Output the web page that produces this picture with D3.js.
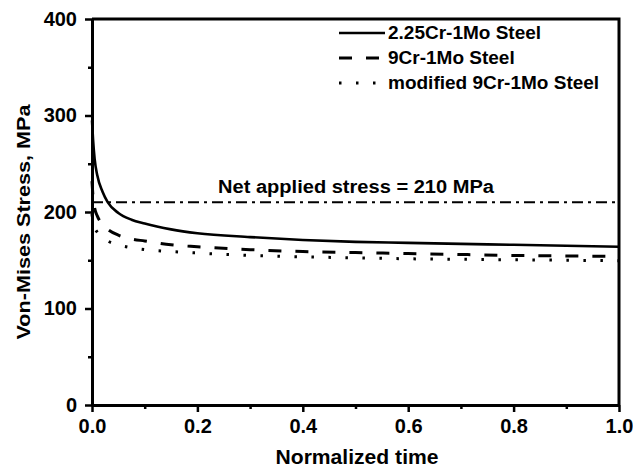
<!DOCTYPE html>
<html>
<head>
<meta charset="utf-8">
<script src="https://cdn.jsdelivr.net/npm/d3@7"></script>
<style>
  body { margin: 0; background: #fff; }
  svg text { font-family: "Liberation Sans", Arial, sans-serif; }
</style>
</head>
<body>
<div id="chart"></div>
<script>
// values
const timeVals   = [0, 0.002, 0.005, 0.01, 0.02, 0.03, 0.05, 0.075, 0.1, 0.15, 0.2, 0.3, 0.4, 0.5, 0.6, 0.7, 0.8, 0.9, 1.0];
const cr225Vals  = [295, 275, 255, 238, 221, 210, 199, 192, 188, 182, 178, 174, 171, 169, 168, 167, 166, 165, 164];
const cr9Vals    = [232, 215, 204, 196, 187, 182, 176, 172, 170, 166, 164, 161, 159, 158, 157, 156, 155, 154.5, 154];
const mod9Vals   = [198, 190, 184, 179, 174, 170, 166, 163, 161, 159, 157.5, 155, 153.5, 152.5, 151.5, 151, 150.5, 150, 149.5];
const seriesNames = ["2.25Cr-1Mo Steel", "9Cr-1Mo Steel", "modified 9Cr-1Mo Steel"];
const netStress = 210;
const xTicks = [0, 0.2, 0.4, 0.6, 0.8, 1.0];
const xMinor = [0.1, 0.3, 0.5, 0.7, 0.9];
const yTicks = [0, 100, 200, 300, 400];
const yMinor = [50, 150, 250, 350];

const W = 633, H = 468;
const m = {t:19, r:14, b:63, l:92};

const svg = d3.select("#chart").append("svg")
  .attr("width", W)
  .attr("height", H);

const x = d3.scaleLinear().domain([0, 1]).range([m.l, W - m.r]);
const y = d3.scaleLinear().domain([0, 400]).range([H - m.b, m.t]);

const styles = [
  {dash: null, w: 2.6},
  {dash: "13,14", w: 3},
  {dash: "2.5,14.5", w: 3}
];
const series = [cr225Vals, cr9Vals, mod9Vals];

// axes
const axisFont = g => g.selectAll("text")
  .attr("font-size", 20).attr("font-weight", "bold").attr("fill", "#000");

svg.append("g")
  .attr("transform", `translate(0,${y(0)})`)
  .call(d3.axisBottom(x).tickValues(xTicks).tickSize(7).tickSizeOuter(0).tickPadding(7).tickFormat(d3.format(".1f")))
  .call(axisFont);
svg.append("g")
  .attr("transform", `translate(0,${y(0)})`)
  .call(d3.axisBottom(x).tickValues(xMinor).tickSize(4).tickSizeOuter(0).tickFormat(""))
  .call(g => g.select(".domain").remove());

svg.append("g")
  .attr("transform", `translate(${x(0)},0)`)
  .call(d3.axisLeft(y).tickValues(yTicks).tickSize(7).tickSizeOuter(0).tickPadding(8).tickFormat(d3.format("d")))
  .call(axisFont);
svg.append("g")
  .attr("transform", `translate(${x(0)},0)`)
  .call(d3.axisLeft(y).tickValues(yMinor).tickSize(4).tickSizeOuter(0).tickFormat(""))
  .call(g => g.select(".domain").remove());

svg.selectAll(".domain").attr("stroke-width", 3).attr("stroke", "#000");
svg.selectAll(".tick line").attr("stroke-width", 2.5).attr("stroke", "#000");

// frame top + right
svg.append("path")
  .attr("d", `M${x(0)},${y(400)}H${x(1)}V${y(0)}`)
  .attr("fill", "none")
  .attr("stroke", "#000")
  .attr("stroke-width", 3);

// net applied stress line
svg.append("line")
  .attr("x1", x(0)).attr("x2", x(1))
  .attr("y1", y(netStress)).attr("y2", y(netStress))
  .attr("stroke", "#000")
  .attr("stroke-width", 2)
  .attr("stroke-dasharray", "11,5,3,5");

svg.append("text")
  .attr("x", 356).attr("y", 193)
  .attr("text-anchor", "middle")
  .attr("font-size", 18).attr("font-weight", "bold")
  .attr("textLength", 276).attr("lengthAdjust", "spacingAndGlyphs")
  .text("Net applied stress = " + netStress + " MPa");

// curves
const line = d3.line()
  .x((d, i) => x(timeVals[i]))
  .y(d => y(d))
  .curve(d3.curveMonotoneX);

svg.selectAll(".curve")
  .data(series)
  .enter()
  .append("path")
  .attr("class", "curve")
  .attr("d", line)
  .attr("fill", "none")
  .attr("stroke", "#000")
  .attr("stroke-width", (d, i) => styles[i].w)
  .attr("stroke-dasharray", (d, i) => styles[i].dash);

// legend
const leg = svg.selectAll(".leg")
  .data(seriesNames)
  .enter()
  .append("g")
  .attr("class", "leg")
  .attr("transform", (d, i) => `translate(339,${33 + i * 25})`);

leg.append("line")
  .attr("x1", 0).attr("x2", 46)
  .attr("stroke", "#000")
  .attr("stroke-width", (d, i) => styles[i].w)
  .attr("stroke-dasharray", (d, i) => styles[i].dash);

leg.append("text")
  .attr("x", 49).attr("y", 6)
  .attr("font-size", 19).attr("font-weight", "bold")
  .text(d => d);

// axis titles
svg.append("text")
  .attr("x", 357).attr("y", 464)
  .attr("text-anchor", "middle")
  .attr("font-size", 20).attr("font-weight", "bold")
  .attr("textLength", 163).attr("lengthAdjust", "spacingAndGlyphs")
  .text("Normalized time");

svg.append("text")
  .attr("transform", "translate(30,222) rotate(-90)")
  .attr("text-anchor", "middle")
  .attr("font-size", 19).attr("font-weight", "bold")
  .attr("textLength", 235).attr("lengthAdjust", "spacingAndGlyphs")
  .text("Von-Mises Stress, MPa");
</script>
</body>
</html>
